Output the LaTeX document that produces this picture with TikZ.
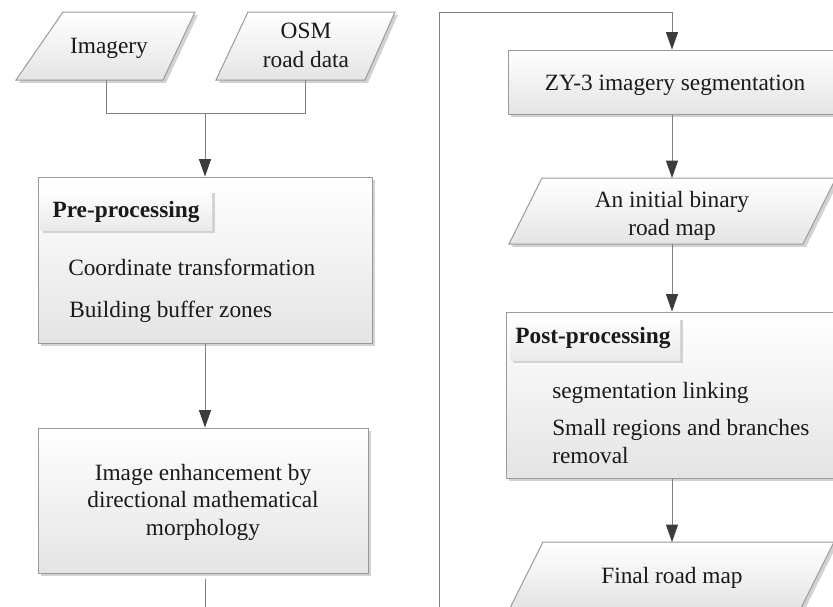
\documentclass[tikz,border=0pt]{standalone}
\usepackage{fontspec}
\setmainfont{Liberation Serif}
\usetikzlibrary{arrows.meta,shadows,fit}
\definecolor{bordergray}{HTML}{9A9A9A}
\definecolor{linegray}{HTML}{808080}
\definecolor{tipgray}{HTML}{3C3C3C}
\definecolor{fillbot}{HTML}{E4E4E4}
\definecolor{shadowgray}{HTML}{D2D2D2}
\definecolor{txtcol}{HTML}{1A1A1A}
\tikzset{
  box/.style={draw=bordergray, line width=0.75pt, top color=white, bottom color=fillbot,
    drop shadow={shadow xshift=2.2pt, shadow yshift=-2.2pt, fill=shadowgray, opacity=1}},
  hdr/.style={top color=white, bottom color=fillbot!80,
    drop shadow={shadow xshift=2pt, shadow yshift=-2pt, fill=shadowgray, opacity=1}},
  conn/.style={draw=linegray, line width=0.75pt},
  arr/.style={conn, -{Triangle[length=13pt,width=9pt,color=tipgray]}},
  txt/.style={font=\fontsize{17.5}{20.6}\selectfont, text=txtcol, inner sep=0pt},
  btxt/.style={txt, font=\fontsize{17.5}{20.6}\selectfont\bfseries},
}
\begin{document}
\begin{tikzpicture}[x=0.75pt,y=-0.75pt]
\clip (0,0) rectangle (833,607);
\fill[white] (0,0) rectangle (833,607);

% ---------- left column ----------
\path[box] (63,12) -- (195,12) -- (163,80) -- (16,80) -- cycle;
\node[txt, anchor=base] (imagery) at (109,53) {Imagery};
\coordinate (imgB) at (106,80);

\path[box] (248,12) -- (395,12) -- (365,80) -- (216,80) -- cycle;
\node[txt, anchor=base] (osm1) at (306,38) {OSM};
\node[txt, anchor=base] (osm2) at (306,67) {road data};
\coordinate (osmB) at (305,80);

\node[box, fit={(38,177) (372,343)}, inner sep=0pt] (pre) {};
\node[hdr, fit={(40,190) (212,230)}, inner sep=0pt] (prehdr) {};
\node[btxt, anchor=base] (pretitle) at (126,217) {Pre-processing};
\node[txt, anchor=base west] (coord) at (68,275) {Coordinate transformation};
\node[txt, anchor=base west] (buffer) at (69,317) {Building buffer zones};

\coordinate (join) at (205,113);
\draw[conn] (imgB) |- (join);
\draw[conn] (osmB) |- (join);
\draw[arr] (join) -- (pre.north -| join);

\node[box, fit={(38,428) (368,573)}, inner sep=0pt] (enh) {};
\node[txt, anchor=base] (enh1) at (203,480) {Image enhancement by};
\node[txt, anchor=base] (enh2) at (203,507) {directional mathematical};
\node[txt, anchor=base] (enh3) at (203,535) {morphology};
\draw[arr] (pre.south -| join) -- (enh.north -| join);

% ---------- loop to right column ----------
\coordinate (enhOut) at (205,579);
\coordinate (botL) at (205,615);
\coordinate (botR) at (439,615);
\coordinate (topL) at (439,12.5);
\coordinate (topR) at (672,12.5);

% ---------- right column ----------
\node[box, fit={(508,50) (836,114)}, inner sep=0pt] (zy) {};
\node[txt, anchor=base] (zytxt) at (675,90) {ZY-3 imagery segmentation};
\draw[arr] (enhOut) -- (botL) -- (botR) -- (topL) -- (topR) -- (zy.north -| topR);

\path[box] (542,178) -- (836,178) -- (803,244) -- (509,244) -- cycle;
\node[txt, anchor=base] (ib1) at (672,207) {An initial binary};
\node[txt, anchor=base] (ib2) at (672,235) {road map};
\coordinate (ibT) at (672,178);
\coordinate (ibB) at (672,244);
\draw[arr] (zy.south -| topR) -- (ibT);

\node[box, fit={(506,312) (838,478)}, inner sep=0pt] (post) {};
\node[hdr, fit={(510,317) (680,360)}, inner sep=0pt] (posthdr) {};
\node[btxt, anchor=base] (posttitle) at (593,343) {Post-processing};
\node[txt, anchor=base west] (seg) at (552,398) {segmentation linking};
\node[txt, anchor=base west] (small) at (552,435) {Small regions and branches};
\node[txt, anchor=base west] (removal) at (552,463) {removal};
\draw[arr] (ibB) -- (post.north -| ibB);

\path[box] (543,542) -- (834,542) -- (801,608) -- (510,608) -- cycle;
\node[txt, anchor=base] (final) at (672,583) {Final road map};
\coordinate (frT) at (672,542);
\draw[arr] (post.south -| frT) -- (frT);
\end{tikzpicture}
\end{document}
